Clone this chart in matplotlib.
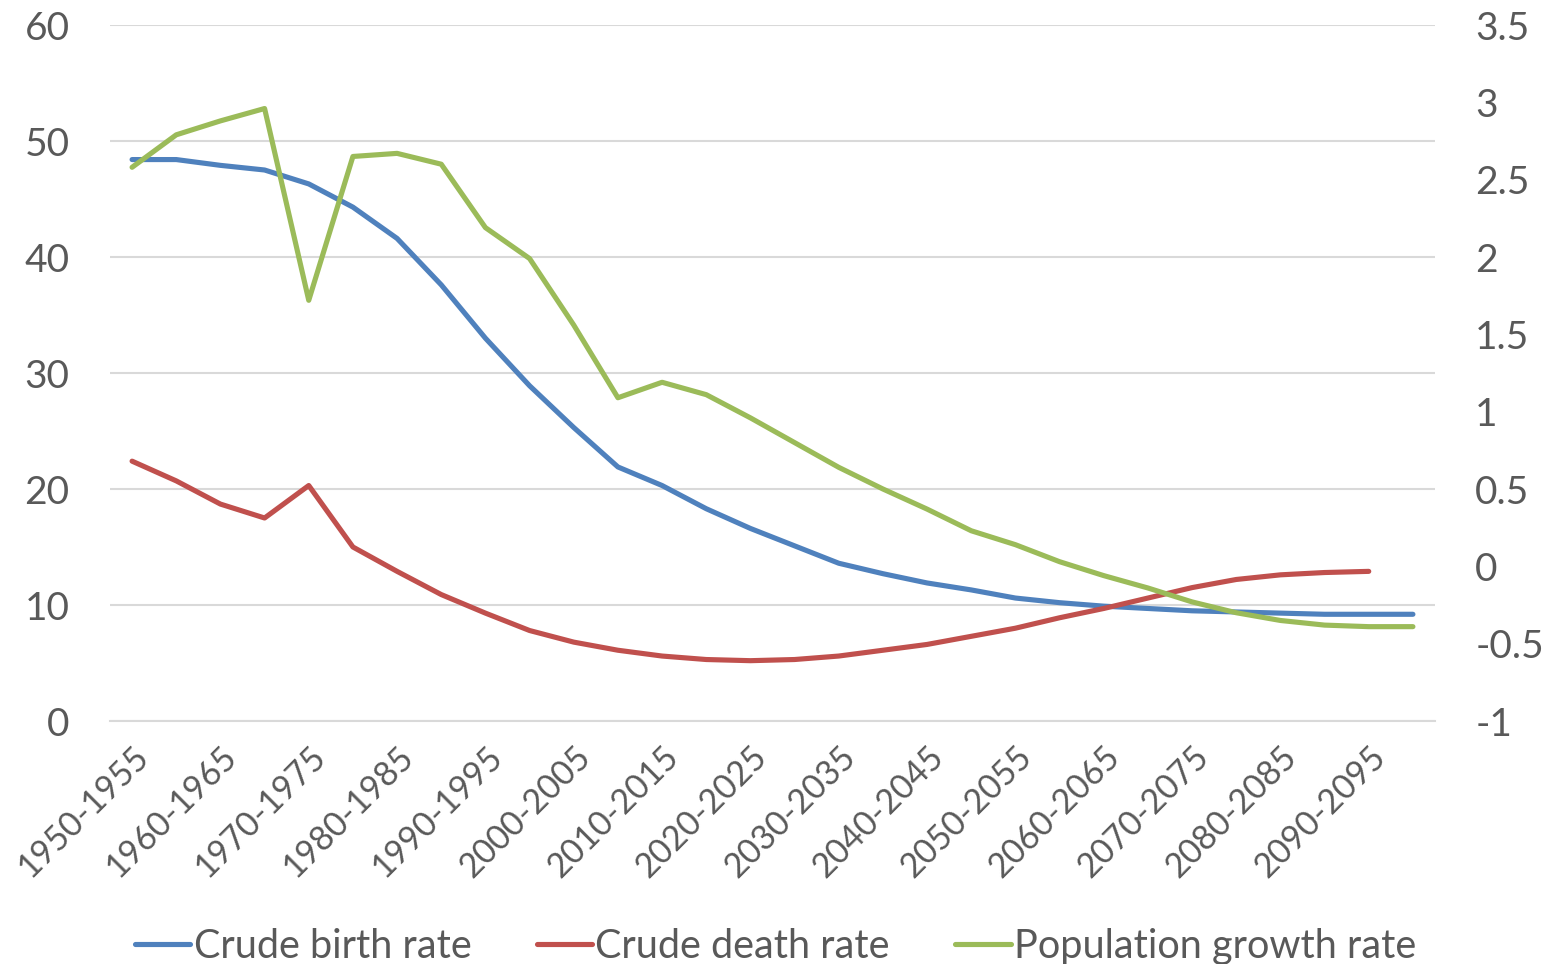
import matplotlib
matplotlib.use("Agg")
import matplotlib.pyplot as plt

plt.rcParams['font.family'] = ['Lato', 'DejaVu Sans']

periods = [f"{y}-{y + 5}" for y in range(1950, 2100, 5)]

birth_rate = [48.4, 48.4, 47.9, 47.5, 46.3, 44.3, 41.6, 37.6, 33.0, 28.9,
              25.3, 21.9, 20.3, 18.3, 16.6, 15.1, 13.6, 12.7, 11.9, 11.3,
              10.6, 10.2, 9.9, 9.7, 9.5, 9.4, 9.3, 9.2, 9.2, 9.2]

death_rate = [22.4, 20.7, 18.7, 17.5, 20.3, 15.0, 12.9, 10.9, 9.3, 7.8,
              6.8, 6.1, 5.6, 5.3, 5.2, 5.3, 5.6, 6.1, 6.6, 7.3,
              8.0, 8.9, 9.7, 10.6, 11.5, 12.2, 12.6, 12.8, 12.9]

growth_rate = [2.58, 2.79, 2.88, 2.96, 1.72, 2.65, 2.67, 2.60, 2.19, 1.99,
               1.56, 1.09, 1.19, 1.11, 0.96, 0.80, 0.64, 0.50, 0.37, 0.23,
               0.14, 0.03, -0.06, -0.14, -0.23, -0.30, -0.35, -0.38, -0.39, -0.39]

left_ticks = [0, 10, 20, 30, 40, 50, 60]
right_ticks = [-1, -0.5, 0, 0.5, 1, 1.5, 2, 2.5, 3, 3.5]

text_color = "#595959"
grid_color = "#D9D9D9"
blue, red, green = "#4F81BD", "#C0504D", "#9BBB59"

fig = plt.figure(figsize=(15.51, 9.64), dpi=100)
ax = fig.add_axes([110 / 1551, 243 / 964, 1325 / 1551, 696 / 964])
ax2 = ax.twinx()

x = list(range(len(periods)))
l1, = ax.plot(x, birth_rate, color=blue, lw=3.7, solid_capstyle='round', solid_joinstyle='round')
l2, = ax.plot(x[:len(death_rate)], death_rate, color=red, lw=3.7, solid_capstyle='round', solid_joinstyle='round')
l3, = ax2.plot(x, growth_rate, color=green, lw=3.7, solid_capstyle='round', solid_joinstyle='round')

ax.set_xlim(-0.5, len(periods) - 0.5)
ax.set_ylim(0, 60)
ax2.set_ylim(-1, 3.5)
ax.set_yticks(left_ticks)
ax.set_yticklabels([str(t) for t in left_ticks])
ax2.set_yticks(right_ticks)
ax2.set_yticklabels([f"{t:g}" for t in right_ticks])

ax.set_xticks(x[::2])
ax.set_xticklabels(periods[::2], rotation=45, ha='right', rotation_mode='anchor')

ax.grid(axis='y', color=grid_color, lw=1.5)
ax.set_axisbelow(True)
for a in (ax, ax2):
    for s in a.spines.values():
        s.set_visible(False)
ax.spines['bottom'].set_visible(True)
ax.spines['bottom'].set_color(grid_color)
ax.spines['bottom'].set_linewidth(1.5)

ax.tick_params(axis='y', length=0, pad=29, labelsize=28, labelcolor=text_color)
ax.tick_params(axis='x', length=0, pad=14, labelsize=24.5, labelcolor=text_color)
ax2.tick_params(axis='y', length=0, pad=29, labelsize=28, labelcolor=text_color)

fig.legend([l1, l2, l3], ["Crude birth rate", "Crude death rate", "Population growth rate"],
           loc='lower center', bbox_to_anchor=(0.5, -0.038), ncol=3, frameon=False,
           fontsize=28.5, labelcolor=text_color, handlelength=1.4, handletextpad=0.08,
           columnspacing=1.65)

fig.savefig("out.png", dpi=100)
